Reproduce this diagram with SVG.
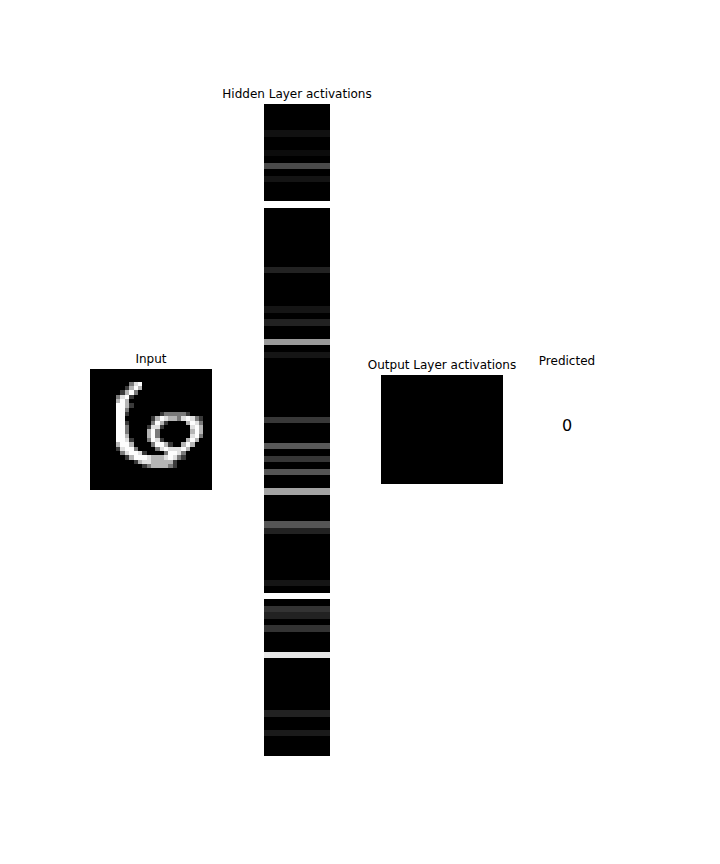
<svg xmlns="http://www.w3.org/2000/svg" width="720" height="864" viewBox="0 0 720 864">
<style>
text{font-family:"DejaVu Sans","Liberation Sans",sans-serif;font-size:12px;fill:#000;text-anchor:middle}
rect{shape-rendering:crispEdges}
.a{fill:#3a3a3a}.b{fill:#7a7a7a}.c{fill:#b5b5b5}.d{fill:#e0e0e0}.e{fill:#fdfdfd}
</style>
<rect width="720" height="864" fill="#fff"/>
<g id="input">
<text x="151" y="362.5">Input</text>
<rect x="90" y="368.5" width="122" height="121.7" fill="#000"/>
<g transform="translate(90,368.5) scale(4.357,4.346)">
<rect class="b" x="9" y="3" width="1" height="1"/><rect class="d" x="10" y="3" width="1" height="1"/><rect class="e" x="11" y="3" width="1" height="1"/>
<rect class="a" x="8" y="4" width="1" height="1"/><rect class="c" x="9" y="4" width="1" height="1"/><rect class="e" x="10" y="4" width="1" height="1"/><rect class="c" x="11" y="4" width="1" height="1"/>
<rect class="a" x="7" y="5" width="1" height="1"/><rect class="c" x="8" y="5" width="1" height="1"/><rect class="e" x="9" y="5" width="1" height="1"/><rect class="b" x="10" y="5" width="1" height="1"/>
<rect class="b" x="6" y="6" width="1" height="1"/><rect class="d" x="7" y="6" width="1" height="1"/><rect class="e" x="8" y="6" width="1" height="1"/><rect class="a" x="9" y="6" width="1" height="1"/>
<rect class="c" x="6" y="7" width="1" height="1"/><rect class="e" x="7" y="7" width="1" height="1"/><rect class="c" x="8" y="7" width="1" height="1"/>
<rect class="e" x="6" y="8" width="2" height="1"/><rect class="c" x="8" y="8" width="1" height="1"/><rect class="a" x="9" y="8" width="1" height="1"/>
<rect class="e" x="6" y="9" width="2" height="1"/><rect class="b" x="8" y="9" width="1" height="1"/>
<rect class="e" x="6" y="10" width="2" height="1"/><rect class="a" x="8" y="10" width="1" height="1"/><rect class="a" x="16" y="10" width="1" height="1"/><rect class="b" x="17" y="10" width="5" height="1"/><rect class="a" x="22" y="10" width="1" height="1"/>
<rect class="e" x="6" y="11" width="2" height="1"/><rect class="a" x="14" y="11" width="1" height="1"/><rect class="c" x="15" y="11" width="1" height="1"/><rect class="e" x="16" y="11" width="1" height="1"/><rect class="d" x="17" y="11" width="1" height="1"/><rect class="c" x="18" y="11" width="2" height="1"/><rect class="b" x="20" y="11" width="1" height="1"/><rect class="d" x="21" y="11" width="1" height="1"/><rect class="e" x="22" y="11" width="1" height="1"/><rect class="d" x="23" y="11" width="1" height="1"/><rect class="b" x="24" y="11" width="1" height="1"/><rect class="a" x="25" y="11" width="1" height="1"/>
<rect class="e" x="6" y="12" width="2" height="1"/><rect class="a" x="8" y="12" width="1" height="1"/><rect class="b" x="14" y="12" width="1" height="1"/><rect class="e" x="15" y="12" width="1" height="1"/><rect class="c" x="16" y="12" width="1" height="1"/><rect class="a" x="17" y="12" width="1" height="1"/><rect class="c" x="22" y="12" width="1" height="1"/><rect class="e" x="23" y="12" width="1" height="1"/><rect class="d" x="24" y="12" width="1" height="1"/><rect class="b" x="25" y="12" width="1" height="1"/>
<rect class="e" x="6" y="13" width="2" height="1"/><rect class="b" x="8" y="13" width="1" height="1"/><rect class="a" x="13" y="13" width="1" height="1"/><rect class="d" x="14" y="13" width="2" height="1"/><rect class="a" x="16" y="13" width="1" height="1"/><rect class="d" x="23" y="13" width="1" height="1"/><rect class="e" x="24" y="13" width="1" height="1"/><rect class="c" x="25" y="13" width="1" height="1"/>
<rect class="e" x="6" y="14" width="2" height="1"/><rect class="b" x="8" y="14" width="1" height="1"/><rect class="c" x="13" y="14" width="1" height="1"/><rect class="e" x="14" y="14" width="1" height="1"/><rect class="b" x="15" y="14" width="1" height="1"/><rect class="c" x="23" y="14" width="1" height="1"/><rect class="e" x="24" y="14" width="1" height="1"/><rect class="c" x="25" y="14" width="1" height="1"/>
<rect class="e" x="6" y="15" width="2" height="1"/><rect class="c" x="8" y="15" width="1" height="1"/><rect class="c" x="13" y="15" width="1" height="1"/><rect class="e" x="14" y="15" width="1" height="1"/><rect class="b" x="15" y="15" width="1" height="1"/><rect class="d" x="23" y="15" width="1" height="1"/><rect class="e" x="24" y="15" width="1" height="1"/><rect class="b" x="25" y="15" width="1" height="1"/>
<rect class="e" x="6" y="16" width="2" height="1"/><rect class="d" x="8" y="16" width="1" height="1"/><rect class="a" x="9" y="16" width="1" height="1"/><rect class="b" x="13" y="16" width="1" height="1"/><rect class="e" x="14" y="16" width="1" height="1"/><rect class="d" x="15" y="16" width="1" height="1"/><rect class="a" x="16" y="16" width="1" height="1"/><rect class="c" x="22" y="16" width="1" height="1"/><rect class="e" x="23" y="16" width="1" height="1"/><rect class="c" x="24" y="16" width="1" height="1"/>
<rect class="c" x="6" y="17" width="1" height="1"/><rect class="e" x="7" y="17" width="2" height="1"/><rect class="c" x="9" y="17" width="1" height="1"/><rect class="b" x="14" y="17" width="1" height="1"/><rect class="e" x="15" y="17" width="2" height="1"/><rect class="c" x="17" y="17" width="1" height="1"/><rect class="a" x="18" y="17" width="1" height="1"/><rect class="c" x="21" y="17" width="1" height="1"/><rect class="e" x="22" y="17" width="1" height="1"/><rect class="c" x="23" y="17" width="1" height="1"/>
<rect class="a" x="6" y="18" width="1" height="1"/><rect class="d" x="7" y="18" width="1" height="1"/><rect class="e" x="8" y="18" width="2" height="1"/><rect class="b" x="10" y="18" width="1" height="1"/><rect class="b" x="15" y="18" width="1" height="1"/><rect class="d" x="16" y="18" width="1" height="1"/><rect class="e" x="17" y="18" width="1" height="1"/><rect class="d" x="18" y="18" width="3" height="1"/><rect class="e" x="21" y="18" width="1" height="1"/><rect class="c" x="22" y="18" width="1" height="1"/>
<rect class="b" x="7" y="19" width="1" height="1"/><rect class="d" x="8" y="19" width="1" height="1"/><rect class="e" x="9" y="19" width="2" height="1"/><rect class="d" x="11" y="19" width="1" height="1"/><rect class="a" x="12" y="19" width="1" height="1"/><rect class="b" x="17" y="19" width="1" height="1"/><rect class="e" x="18" y="19" width="2" height="1"/><rect class="d" x="20" y="19" width="1" height="1"/><rect class="b" x="21" y="19" width="1" height="1"/>
<rect class="a" x="8" y="20" width="1" height="1"/><rect class="c" x="9" y="20" width="1" height="1"/><rect class="e" x="10" y="20" width="3" height="1"/><rect class="d" x="13" y="20" width="1" height="1"/><rect class="c" x="14" y="20" width="3" height="1"/><rect class="d" x="17" y="20" width="1" height="1"/><rect class="e" x="18" y="20" width="1" height="1"/><rect class="d" x="19" y="20" width="1" height="1"/><rect class="b" x="20" y="20" width="1" height="1"/><rect class="a" x="21" y="20" width="1" height="1"/>
<rect class="a" x="10" y="21" width="1" height="1"/><rect class="c" x="11" y="21" width="1" height="1"/><rect class="d" x="12" y="21" width="2" height="1"/><rect class="c" x="14" y="21" width="5" height="1"/><rect class="a" x="19" y="21" width="1" height="1"/>
<rect class="a" x="12" y="22" width="1" height="1"/><rect class="b" x="13" y="22" width="1" height="1"/><rect class="c" x="14" y="22" width="4" height="1"/><rect class="b" x="18" y="22" width="1" height="1"/><rect class="a" x="19" y="22" width="1" height="1"/>
</g>
</g>
<g id="hidden">
<text x="297" y="98">Hidden Layer activations</text>
<rect x="264" y="104" width="66" height="652" fill="#000"/>
<g>
<rect x="264" y="130" width="66" height="7" fill="#111"/>
<rect x="264" y="150" width="66" height="6" fill="#0c0c0c"/>
<rect x="264" y="163" width="66" height="6" fill="#4a4a4a"/>
<rect x="264" y="176" width="66" height="6" fill="#141414"/>
<rect x="264" y="201" width="66" height="7" fill="#fdfdfd"/>
<rect x="264" y="267" width="66" height="6" fill="#222"/>
<rect x="264" y="306" width="66" height="7" fill="#151515"/>
<rect x="264" y="319" width="66" height="7" fill="#222"/>
<rect x="264" y="339" width="66" height="6" fill="#9a9a9a"/>
<rect x="264" y="352" width="66" height="6" fill="#151515"/>
<rect x="264" y="417" width="66" height="6" fill="#383838"/>
<rect x="264" y="443" width="66" height="6" fill="#585858"/>
<rect x="264" y="456" width="66" height="6" fill="#363636"/>
<rect x="264" y="469" width="66" height="6" fill="#555"/>
<rect x="264" y="488" width="66" height="7" fill="#a3a3a3"/>
<rect x="264" y="521" width="66" height="7" fill="#555"/>
<rect x="264" y="528" width="66" height="6" fill="#222"/>
<rect x="264" y="580" width="66" height="6" fill="#151515"/>
<rect x="264" y="593" width="66" height="6" fill="#fff"/>
<rect x="264" y="606" width="66" height="6" fill="#333"/>
<rect x="264" y="612" width="66" height="7" fill="#222"/>
<rect x="264" y="625" width="66" height="7" fill="#333"/>
<rect x="264" y="652" width="66" height="6" fill="#e6e6e6"/>
<rect x="264" y="710" width="66" height="7" fill="#222"/>
<rect x="264" y="730" width="66" height="6" fill="#1a1a1a"/>
</g>
</g>
<g id="output">
<text x="442" y="369">Output Layer activations</text>
<rect x="381" y="375" width="122" height="108.5" fill="#000"/>
</g>
<g id="predicted">
<text x="567" y="365">Predicted</text>
<text x="567" y="431" style="font-size:16px">0</text>
</g>
</svg>
